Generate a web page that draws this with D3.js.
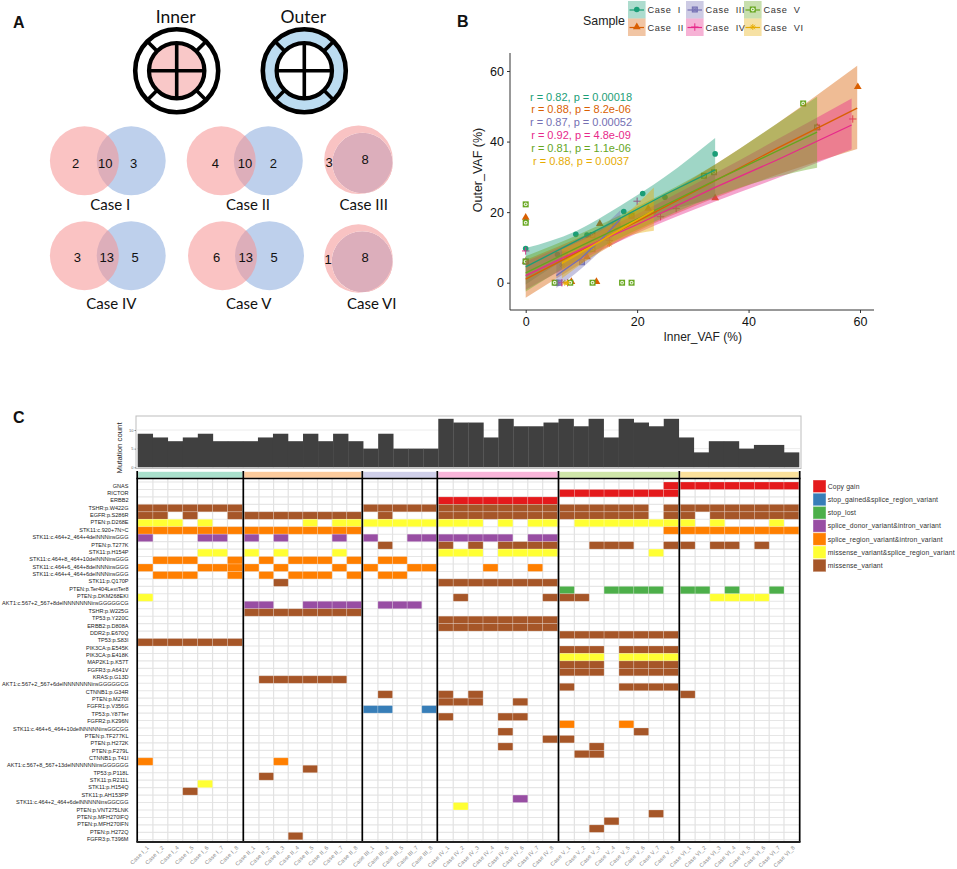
<!DOCTYPE html>
<html><head><meta charset="utf-8">
<script src="https://cdn.jsdelivr.net/npm/d3@7/dist/d3.min.js"></script>
<style>html,body{margin:0;padding:0;background:#fff}svg{display:block}text{font-family:"Liberation Sans",Arial,sans-serif}</style>
</head><body><svg id="c" width="957" height="869"></svg>
<script>
// ---------- DATA ----------
const caseNames = ['I','II','III','IV','V','VI'];
const caseColors = ['#1b9e77','#d95f02','#7570b3','#e7298a','#66a61e','#e6ab02'];
const stripColors = ['#a9e0cc','#fccb9c','#cfcfe9','#f8b5d9','#cfe6a9','#fbe19b'];
const sampleIds = [[1,2,4,5,6,7,8],[1,2,3,4,5,6,7,8],[1,4,5,7,8],[1,2,3,4,5,6,7,8],[1,2,3,4,5,6,7,8],[1,2,3,4,5,6,7,8]];
const mutationCount = [9,8,7,8,9,7,7, 7,8,9,7,9,7,9,7, 5,9,5,5,5, 13,12,12,8,13,11,11,12, 13,11,13,8,13,12,11,13, 8,4,7,7,5,6,6,4];
const countTicks = [0,5,10];
const rowLabels = ['GNAS','RICTOR','ERBB2','TSHR:p.W422G','EGFR:p.S286R','PTEN:p.D268E','STK11:c.920+7N>C','STK11:c.464+2_464+4delNNNinsGGG','PTEN:p.T277K','STK11:p.H154P','STK11:c.464+8_464+10delNNNinsGGG','STK11:c.464+6_464+8delNNNinsGGG','STK11:c.464+4_464+6delNNNinsGGG','STK11:p.Q170P','PTEN:p.Ter404LextTer8','PTEN:p.DKM268EKI','AKT1:c.567+2_567+8delNNNNNNNinsGGGGGCG','TSHR:p.W225G','TP53:p.Y220C','ERBB2:p.D808A','DDR2:p.E670Q','TP53:p.S83I','PIK3CA:p.E545K','PIK3CA:p.E418K','MAP2K1:p.K57T','FGFR3:p.A641V','KRAS:p.G13D','AKT1:c.567+2_567+6delNNNNNNNinsGGGGGCG','CTNNB1:p.G34R','PTEN:p.M270I','FGFR1:p.V356G','TP53:p.Y87Ter','FGFR2:p.K296N','STK11:c.464+6_464+10delNNNNNinsGGCGG','PTEN:p.TF277KL','PTEN:p.H272K','PTEN:p.F279L','CTNNB1:p.T41I','AKT1:c.567+8_567+13delNNNNNNinsGGGGGG','TP53:p.P118L','STK11:p.R211L','STK11:p.H154Q','STK11:p.AH153PP','STK11:c.464+2_464+6delNNNNNinsGGCGG','PTEN:p.VNT275LNK','PTEN:p.MFH270IFQ','PTEN:p.MFH270IFN','PTEN:p.H272Q','FGFR3:p.T396M'];
const variantNames = ['Copy gain','stop_gained&splice_region_variant','stop_lost','splice_donor_variant&intron_variant','splice_region_variant&intron_variant','missense_variant&splice_region_variant','missense_variant'];
const variantColors = ['#e41a1c','#377eb8','#4daf4a','#984ea3','#ff7f00','#ffff33','#a65628'];
// row, variant index, case index, 1-based column positions in that case
const mutationCells = [
[0,0,4,'8'],[0,0,5,'12345678'],[1,0,4,'12345678'],[2,0,3,'12345678'],
[3,6,0,'1234567'],[3,6,2,'12345'],[3,6,3,'12345678'],[3,6,4,'1234568'],[3,6,5,'12345678'],
[4,6,0,'1247'],[4,6,1,'12345678'],[4,6,2,'2'],[4,6,3,'12345678'],[4,6,4,'1234568'],[4,6,5,'1345678'],
[5,5,0,'1235'],[5,5,1,'578'],[5,5,2,'12345'],[5,5,3,'123578'],[5,5,4,'2345678'],[5,5,5,'137'],
[6,4,0,'1234567'],[6,4,1,'12345678'],[6,4,4,'8'],[6,4,5,'12345678'],
[7,3,0,'156'],[7,3,1,'137'],[7,3,2,'145'],[7,3,3,'1234578'],
[8,6,2,'2'],[8,6,3,'135678'],[8,6,4,'3458'],[8,6,5,'1346'],
[9,5,0,'56'],[9,5,1,'137'],[9,5,3,'1235678'],[9,5,4,'7'],
[10,4,0,'2347'],[10,4,1,'24568'],[10,4,2,'23'],
[11,4,0,'1567'],[11,4,1,'137'],[11,4,2,'145'],[11,4,3,'47'],
[12,4,0,'2347'],[12,4,1,'24568'],[12,4,2,'23'],
[13,6,1,'3'],[13,6,3,'12345678'],
[14,2,4,'14567'],[14,2,5,'1247'],
[15,5,0,'1'],[15,6,3,'28'],[15,6,4,'12'],[15,5,5,'3456'],
[16,3,1,'125678'],[16,3,2,'234'],[17,6,1,'12345678'],[18,6,3,'12345678'],[19,6,3,'12345678'],
[20,6,4,'12345678'],[21,6,0,'1234567'],
[22,6,4,'1235678'],[23,5,4,'1235678'],[24,6,4,'1235678'],[25,6,4,'1235678'],
[26,6,1,'234567'],[27,6,4,'15678'],
[28,6,2,'2'],[28,6,3,'13'],[28,6,5,'1'],[29,6,3,'1236'],
[30,1,2,'125'],[31,6,3,'156'],[32,4,4,'15'],[33,6,3,'5'],[33,6,4,'6'],
[34,6,3,'8'],[34,6,4,'1'],[35,6,3,'5'],[35,6,4,'3'],[36,6,4,'23'],
[37,4,0,'1'],[37,4,1,'3'],[38,6,1,'5'],[39,6,1,'2'],[40,5,0,'5'],[41,6,0,'4'],
[42,3,3,'6'],[43,5,3,'2'],[44,6,4,'7'],[45,6,4,'4'],[46,6,4,'3'],[47,6,1,'4']
];
// scatter: [inner, outer]
const pointsI = [[0,17.3],[0,9.7],[0,6],[9,13.7],[17.6,20.2],[21,25.3],[25,24.2],[34,36.5],[5.7,8],[11,13.5],[16.5,16.5]];
const pointsII = [[0,18.5],[59.6,55.5],[13.3,16.7],[11,7.3],[12.7,.3],[8.2,.3],[34,24],[22,21],[52.3,44],[0,6]];
const pointsIII = [[10.1,5.8],[5.5,0],[6,0],[0,6],[16,16],[7,8]];
const pointsIV = [[20,23.1],[24.2,18.7],[58.7,46.4],[0,9],[6.5,0],[7.5,0],[15,12],[27,21]];
const pointsV = [[0,22.2],[0,17],[49.8,50.8],[52.3,44],[12,0],[17.3,0],[19,0],[5.2,0],[8,0],[33.8,31.3],[32,30.3],[0,6],[12,13.5],[12,9.5],[19,19]];
const pointsVI = [[7,0],[7.5,0],[6.5,5],[15,11],[16.5,16],[19,19],[23,20]];
// fit: [inner, fit, lower, upper]
const fitI = [[0,4.5,-.5,9.8],[9,11.8,8.5,14.6],[17,18.3,15,21.8],[25,25,20,30],[34,32,24,41]];
const fitII = [[0,1,-4.3,6.5],[10,9.2,5.5,13],[20,17.4,14.5,20.5],[34,28.9,24,33.5],[45,38,30.5,45],[59.5,49.5,37.9,61.5]];
const fitIII = [[5.5,2,-1.5,5.5],[10,7,4,10],[14,13,10,16],[17,18,15.5,20.5]];
const fitIV = [[0,2,-2,6],[10,9.5,6.5,12.5],[20,16.5,14,19.5],[34,27,23,31],[45,34.7,29.5,40.5],[58.5,44.7,37.8,52.2]];
const fitV = [[0,2.8,-2.5,7.5],[10,10.5,7,14],[20,18,15,21.5],[34,29,24.5,33.5],[45,37.2,30,45],[52.3,42.7,32.6,52.7]];
const fitVI = [[6.5,5.5,1.2,9.5],[12,10.5,7.5,13.5],[18,16,13,19.5],[23,20.5,14.7,27]];
const corrText = ['r = 0.82, p = 0.00018','r = 0.88, p = 8.2e-06','r = 0.87, p = 0.00052','r = 0.92, p = 4.8e-09','r = 0.81, p = 1.1e-06','r = 0.88, p = 0.0037'];
const vafTicks = [0,20,40,60];
// Venn counts: inner only, shared, outer only
const vennCounts = [[2,10,3],[4,10,2],[3,8,null],[3,13,5],[6,13,5],[1,8,null]];

// ---------- LAYOUT ----------
const svg = d3.select('#c');
const sans = '"Liberation Sans",Arial,sans-serif', lato = 'Lato,"Open Sans",sans-serif';
function panelLabel(t,x,y){svg.append('text').attr('x',x).attr('y',y).attr('font-size',16).attr('font-weight',700).attr('fill','#111').text(t);}
panelLabel('A',13,28);panelLabel('B',457,27);panelLabel('C',13,423);

// ---------- A ----------
const gA = svg.append('g');
function icon(cx,cy,title,ringFill,coreFill){
  const g = gA.append('g').attr('transform',`translate(${cx},${cy})`);
  gA.append('text').attr('x',cx-1).attr('y',23).attr('text-anchor','middle').attr('font-size',17.5).style('font-family',lato).attr('fill','#111').text(title);
  g.append('circle').attr('r',41.5).attr('fill',ringFill).attr('stroke','#000').attr('stroke-width',4.6);
  g.append('circle').attr('r',27.7).attr('fill',coreFill).attr('stroke','#000').attr('stroke-width',4.2);
  [[1,0],[0,1]].forEach(([a,b])=>g.append('line').attr('x1',-27.7*a).attr('x2',27.7*a).attr('y1',-27.7*b).attr('y2',27.7*b).attr('stroke','#000').attr('stroke-width',3.6));
  d3.range(4).forEach(k=>{const t=Math.PI/4+k*Math.PI/2;
    g.append('line').attr('x1',27*Math.cos(t)).attr('y1',27*Math.sin(t)).attr('x2',41*Math.cos(t)).attr('y2',41*Math.sin(t)).attr('stroke','#000').attr('stroke-width',3.6);});
}
icon(176.7,70.7,'Inner','#fff','#f9c8c8');
icon(304.3,70.7,'Outer','#bcdcf1','#fff');

const vennLayout = [
 {a:[84.4,160.8,34.5],b:[131.2,160.8,34.5],t:[[75.7,163.5],[105.3,163.5],[133.7,163.5]],l:[110.3,205]},
 {a:[221.2,160.8,34.5],b:[268.3,160.8,34.5],t:[[215.3,163.8],[245,163.8],[273.3,163.8]],l:[248,205]},
 {a:[358.5,159.7,34.3],b:[362.5,163,30.2],t:[[329,162.3],[365,159]],l:[363.7,205]},
 {a:[84.4,255.7,34.5],b:[131.2,255.7,34.5],t:[[77.3,257.5],[106.7,257.5],[135,257.5]],l:[111.3,303.7]},
 {a:[222.5,255.7,34.5],b:[269.5,255.7,34.5],t:[[216.7,257.5],[245.7,257.5],[274,257.5]],l:[248.7,303.7]},
 {a:[358.5,258.5,34.2],b:[362.2,261.8,30.5],t:[[328,259],[365,257.7]],l:[371.7,303.7]}
];
vennLayout.forEach((v,i)=>{
  const nest = vennCounts[i][2]===null;
  gA.append('circle').attr('cx',v.b[0]).attr('cy',v.b[1]).attr('r',v.b[2]).attr('fill',nest?'#dcaebb':'#bed0ec');
  if(nest){
    const p=d3.path();p.arc(v.a[0],v.a[1],v.a[2],0,2*Math.PI);p.moveTo(v.b[0]+v.b[2],v.b[1]);p.arc(v.b[0],v.b[1],v.b[2],0,2*Math.PI,true);
    gA.append('path').attr('d',p).attr('fill','#f9c3c3').attr('fill-rule','evenodd');
  } else {
    gA.append('circle').attr('cx',v.a[0]).attr('cy',v.a[1]).attr('r',v.a[2]).attr('fill','#f69292').attr('fill-opacity',.55);
  }
  vennCounts[i].filter(d=>d!==null).forEach((n,k)=>{
    gA.append('text').attr('x',v.t[k][0]).attr('y',v.t[k][1]).attr('dy','.36em').attr('text-anchor','middle').attr('font-size',13).attr('fill','#111').text(n);
  });
  gA.append('text').attr('x',v.l[0]).attr('y',v.l[1]).attr('dy','.36em').attr('text-anchor','middle').attr('font-size',15).style('font-family',lato).attr('fill','#111').text('Case '+caseNames[i]);
});

// ---------- B ----------
const gB = svg.append('g');
const xV = d3.scaleLinear().domain([0,60]).range([525.7,860]);
const yV = d3.scaleLinear().domain([0,60]).range([282.7,71]);
const allPts=[pointsI,pointsII,pointsIII,pointsIV,pointsV,pointsVI], allFit=[fitI,fitII,fitIII,fitIV,fitV,fitVI];
function marker(g,k,x,y,col,s=1){
  const e=g.append('g').attr('transform',`translate(${x},${y}) scale(${s})`);
  const ln=(a,b,c,d,w=1)=>e.append('line').attr('x1',a).attr('y1',b).attr('x2',c).attr('y2',d).attr('stroke',col).attr('stroke-width',w);
  if(k===0) e.append('circle').attr('r',2.8).attr('fill',col);
  if(k===1) e.append('path').attr('d',d3.symbol(d3.symbolTriangle,26)()).attr('fill',col);
  if(k===2){e.append('rect').attr('x',-2.5).attr('y',-2.5).attr('width',5).attr('height',5).attr('fill',col).attr('fill-opacity',.55).attr('stroke',col).attr('stroke-width',1);ln(-2.5,-2.5,2.5,2.5,.7);ln(-2.5,2.5,2.5,-2.5,.7);}
  if(k===3){ln(-3.7,0,3.7,0,1);ln(0,-3.7,0,3.7,1);}
  if(k===4){e.append('rect').attr('x',-3).attr('y',-3).attr('width',6).attr('height',6).attr('fill',col);e.append('circle').attr('r',1.9).attr('fill','#e8f2da');e.append('circle').attr('r',.8).attr('fill',col);}
  if(k===5){ln(-3,0,3,0,.9);ln(0,-3,0,3,.9);ln(-2.2,-2.2,2.2,2.2,.9);ln(-2.2,2.2,2.2,-2.2,.9);}
}
allPts.forEach((pts,k)=>pts.forEach(d=>marker(gB,k,xV(d[0]),yV(d[1]),caseColors[k])));
const ribbon=d3.area().x(d=>xV(d[0])).y0(d=>yV(d[2])).y1(d=>yV(d[3])).curve(d3.curveMonotoneX);
const fitLine=d3.line().x(d=>xV(d[0])).y(d=>yV(d[1]));
allFit.forEach((f,k)=>{
  gB.append('path').attr('d',ribbon(f)).attr('fill',caseColors[k]).attr('fill-opacity',.42);
});
allFit.forEach((f,k)=>{
  gB.append('path').attr('d',fitLine(f)).attr('fill','none').attr('stroke',caseColors[k]).attr('stroke-width',k===5?1.7:1.3);
});
const xAxisB=gB.append('g').attr('transform','translate(0,310)').call(d3.axisBottom(xV).tickValues(vafTicks).tickSize(3).tickPadding(4));
const yAxisB=gB.append('g').attr('transform','translate(510,0)').call(d3.axisLeft(yV).tickValues(vafTicks).tickSize(3).tickPadding(3));
[xAxisB,yAxisB].forEach(a=>{a.selectAll('text').attr('font-size',12.5).style('font-family',sans).attr('fill','#111');a.selectAll('line').attr('stroke','#333');a.select('.domain').remove();});
gB.append('line').attr('x1',510).attr('x2',874).attr('y1',310).attr('y2',310).attr('stroke','#333').attr('stroke-width',1);
gB.append('line').attr('x1',510).attr('x2',510).attr('y1',53).attr('y2',310).attr('stroke','#333').attr('stroke-width',1);
gB.append('text').attr('x',702.7).attr('y',337).attr('dy','.36em').attr('text-anchor','middle').attr('font-size',12).attr('fill','#222').text('Inner_VAF (%)');
gB.append('text').attr('transform','translate(477,170) rotate(-90)').attr('dy','.36em').attr('text-anchor','middle').attr('font-size',12.5).attr('fill','#222').text('Outer_VAF (%)');
const corrY=[97,109.3,122,134.7,147.7,160.7];
corrText.forEach((t,k)=>gB.append('text').attr('x',581).attr('y',corrY[k]).attr('dy','.36em').attr('text-anchor','middle').attr('font-size',11).attr('fill',caseColors[k]).text(t));
gB.append('text').attr('x',583).attr('y',20.5).attr('dy','.36em').attr('font-size',12.4).attr('fill','#222').text('Sample');
const keyX=[628,686,744], keyOrder=[[0,1],[2,3],[4,5]];
keyOrder.forEach((pair,c)=>pair.forEach((k,r)=>{
  const y=1+r*17.5;
  gB.append('rect').attr('x',keyX[c]).attr('y',y).attr('width',17.6).attr('height',17.5).attr('fill',caseColors[k]).attr('fill-opacity',.36);
  gB.append('line').attr('x1',keyX[c]+1.5).attr('x2',keyX[c]+16).attr('y1',y+9).attr('y2',y+9).attr('stroke',caseColors[k]).attr('stroke-width',1.2);
  marker(gB,k,keyX[c]+8.8,y+8.5,caseColors[k]);
  gB.append('text').attr('x',keyX[c]+19.5).attr('y',y+9).attr('dy','.36em').attr('font-size',9.2).attr('letter-spacing',.6).style('white-space','pre').attr('fill','#333').text('Case  '+caseNames[k]);
}));

// ---------- C ----------
const gC = svg.append('g');
const allSamples = caseNames.flatMap((c,i)=>sampleIds[i].map(s=>`Case ${c}_${s}`));
const xTop = d3.scaleBand().domain(allSamples).range([137.7,799]);
const yTop = d3.scaleLinear().domain([0,10]).range([467.3,430]);
gC.append('rect').attr('x',136).attr('y',416).attr('width',665).attr('height',52.5).attr('fill','#fff').attr('stroke','#bdbdbd').attr('stroke-width',1);
countTicks.slice(1).forEach(t=>gC.append('line').attr('x1',137).attr('x2',800).attr('y1',yTop(t)).attr('y2',yTop(t)).attr('stroke','#ececec'));
gC.selectAll('rect.bar').data(mutationCount).join('rect').attr('class','bar')
  .attr('x',(d,i)=>xTop(allSamples[i])).attr('width',xTop.bandwidth()+.3)
  .attr('y',d=>yTop(d)).attr('height',d=>yTop(0)-yTop(d)).attr('fill','#404040');
const ax=gC.append('g').attr('transform','translate(136,0)').call(d3.axisLeft(yTop).tickValues(countTicks).tickSize(1.5).tickPadding(1));
ax.select('.domain').remove();ax.selectAll('text').attr('font-size',4).attr('fill','#666');ax.selectAll('line').attr('stroke','#888');
gC.append('text').attr('transform','translate(119,448) rotate(-90)').attr('dy','.36em').attr('text-anchor','middle').attr('font-size',7.8).attr('fill','#222').text('Mutation count');

const dividers=[137.2,243.3,362.3,437.3,558.5,679.3,799.7];
const xCols=caseNames.map((c,i)=>d3.scaleBand().domain(d3.range(1,sampleIds[i].length+1)).range([dividers[i]+(i?1:.8),dividers[i+1]-.9]));
const yRow=d3.scaleBand().domain(d3.range(48)).range([482,839.8]);
const yLabel=d3.scalePoint().domain(rowLabels).range([485.67,839]);
const frameTop=478.5,frameBot=842;
// strip
caseNames.forEach((c,i)=>gC.append('rect').attr('x',dividers[i]+1).attr('y',471.8).attr('width',dividers[i+1]-dividers[i]-2).attr('height',6).attr('fill',stripColors[i]));
// grid
d3.range(49).forEach(r=>gC.append('line').attr('x1',138).attr('x2',799).attr('y1',yRow.step()*r+482).attr('y2',yRow.step()*r+482).attr('stroke','#e6e6e6').attr('stroke-width',1.1));
caseNames.forEach((c,i)=>xCols[i].domain().slice(1).forEach(p=>gC.append('line').attr('x1',xCols[i](p)).attr('x2',xCols[i](p)).attr('y1',frameTop).attr('y2',frameBot).attr('stroke','#e2e2e2').attr('stroke-width',1.2)));
// cells
mutationCells.forEach(([row,v,c,cols])=>{
  cols.split('').map(Number).forEach(p=>{
    gC.append('rect').attr('x',xCols[c](p)).attr('y',yRow(row)).attr('width',xCols[c].bandwidth()).attr('height',yRow.bandwidth())
      .attr('fill',variantColors[v]).attr('stroke','#fff').attr('stroke-opacity',.3).attr('stroke-width',.7);
  });
});
// frame
dividers.forEach(x=>gC.append('line').attr('x1',x).attr('x2',x).attr('y1',471).attr('y2',frameBot).attr('stroke','#000').attr('stroke-width',1.7));
gC.append('line').attr('x1',136.4).attr('x2',800.5).attr('y1',frameTop).attr('y2',frameTop).attr('stroke','#000').attr('stroke-width',1.5);
gC.append('line').attr('x1',136.4).attr('x2',800.5).attr('y1',frameBot).attr('y2',frameBot).attr('stroke','#222').attr('stroke-width',1.8);
// labels
gC.selectAll('text.row').data(rowLabels).join('text').attr('class','row').attr('x',128.5).attr('y',d=>yLabel(d)).attr('dy','.36em').attr('text-anchor','end').attr('font-size',5.55).attr('fill','#222').text(d=>d);
caseNames.forEach((c,i)=>sampleIds[i].forEach((s,k)=>{
  const x=xCols[i](k+1)+xCols[i].bandwidth()/2+4;
  gC.append('text').attr('transform',`translate(${x},848) rotate(-45)`).attr('text-anchor','end').attr('font-size',5.6).attr('letter-spacing',.2).attr('fill','#888').text(`Case ${c}_${s}`);
}));
// legend
variantNames.forEach((n,k)=>{
  const y=480+k*13.2;
  gC.append('rect').attr('x',813).attr('y',y).attr('width',13).attr('height',12.6).attr('fill',variantColors[k]).attr('stroke','#fff').attr('stroke-opacity',.4);
  gC.append('text').attr('x',827.7).attr('y',y+6.4).attr('dy','.36em').attr('font-size',6.8).attr('letter-spacing',.14).attr('fill','#333').text(n);
});
</script></body></html>
